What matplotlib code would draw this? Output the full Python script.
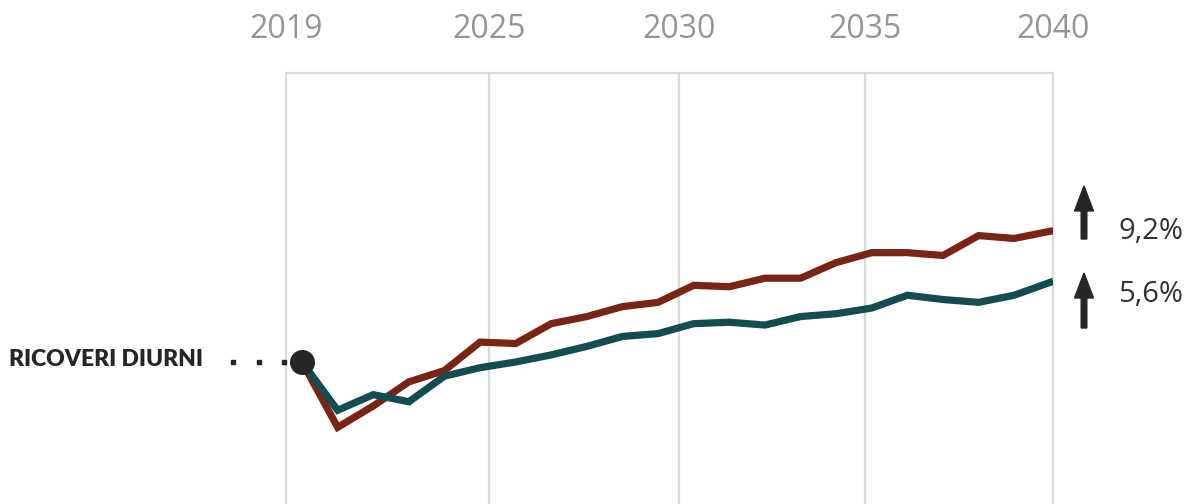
import matplotlib.pyplot as plt
import numpy as np

# percent change vs 2019, daily hospital admissions
years = np.arange(2019, 2041)
scenario_high = [0.0, -4.6, -3.1, -1.4, -0.6, 1.4, 1.3, 2.7, 3.2, 3.9, 4.2,
                 5.4, 5.3, 5.9, 5.9, 7.0, 7.7, 7.7, 7.5, 8.9, 8.7, 9.2]
scenario_low = [0.0, -3.4, -2.3, -2.8, -1.0, -0.4, 0.0, 0.5, 1.1, 1.8, 2.0,
                2.7, 2.8, 2.6, 3.2, 3.4, 3.8, 4.7, 4.4, 4.2, 4.7, 5.6]
tick_labels = ["2019", "2025", "2030", "2035", "2040"]
end_labels = ["9,2%", "5,6%"]
row_label = "RICOVERI DIURNI"

RED = "#7a2416"
TEAL = "#134d51"
GRID = "#d9d9d9"
DARK = "#262626"

W, H = 1190, 504
fig = plt.figure(figsize=(W / 100, H / 100), dpi=100)


def fx(px):
    return px / W


def fy(py):
    return 1 - py / H


ax = fig.add_axes([fx(286), 0.0, fx(1053) - fx(286), fy(73)])
ax.set_xlim(2018.55, 2040.09)
ax.set_ylim(-10.0, 20.35)
ax.set_xticks([])
ax.set_yticks([])
ax.spines["bottom"].set_visible(False)
for side in ("top", "left", "right"):
    ax.spines[side].set_color(GRID)
    ax.spines[side].set_linewidth(1.6)

# column separators and year headings
grid_frac = [0.0, 0.2647, 0.5124, 0.7549, 1.0]
ax.vlines(grid_frac[1:-1], 0, 1, transform=ax.transAxes, color=GRID, lw=1.6, zorder=0)
for frac, lab in zip(grid_frac, tick_labels):
    fig.text(fx(286) + frac * (fx(1053) - fx(286)), fy(30), lab, ha="center", va="center",
             fontsize=23, color="#959595", family="Open Sans")

ax.plot(years, scenario_high, color=RED, lw=5.2, solid_joinstyle="miter", zorder=3)
ax.plot(years, scenario_low, color=TEAL, lw=5.2, solid_joinstyle="miter", zorder=4)
ax.plot(years[0], scenario_high[0], "o", color=DARK, ms=17, zorder=5, clip_on=False)

# row label with dotted leader
fig.text(fx(9), fy(360), row_label, ha="left", va="center", fontsize=16.5,
         fontweight="heavy", color=DARK, family="Lato")
for px in (233, 259, 284):
    fig.patches.append(plt.Rectangle((fx(px) - fx(2), fy(362) - 2 / H), fx(4), 4 / H,
                                     transform=fig.transFigure, color=DARK))

# growth arrows at the right
for (top, bottom, ty), lab in zip([(186, 239, 232), (273, 328, 295)], end_labels):
    fig.patches.append(plt.matplotlib.patches.FancyArrow(
        fx(1084), fy(bottom), 0, fy(top) - fy(bottom), width=2.4 / H,
        head_width=fx(19), head_length=(25 / H), length_includes_head=True,
        transform=fig.transFigure, color=DARK))
    fig.text(fx(1118), fy(ty), lab, ha="left", va="center", fontsize=21,
             color="#333333", family="Open Sans")

fig.savefig("out.png", dpi=100)
